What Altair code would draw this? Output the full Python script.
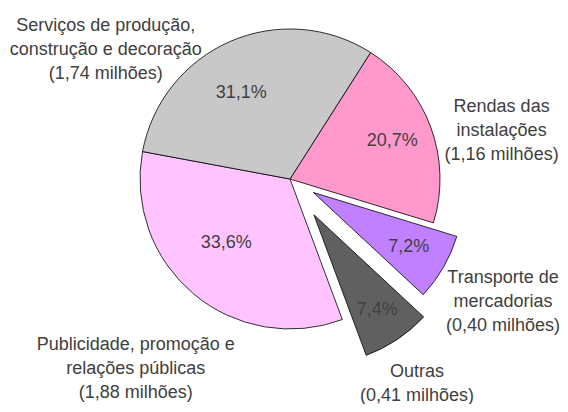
import altair as alt
import pandas as pd

# ---- data ----
categories = [
    "Rendas das\ninstalações",
    "Transporte de\nmercadorias",
    "Outras",
    "Publicidade, promoção e\nrelações públicas",
    "Serviços de produção,\nconstrução e decoração",
]
shares = [20.7, 7.2, 7.4, 33.6, 31.1]
amounts = [1.16, 0.40, 0.41, 1.88, 1.74]

# ---- style ----
colors = ["#FF99CC", "#C080FF", "#606060", "#FFC4FF", "#C8C8C8"]
explode = [0, 27, 43, 0, 0]             # px pulled out from centre
inner_dist = [109, 110, 114, 90, 99]    # px, percentage label distance
inner_shift = [0, 0, 0, 5, -6]          # deg, percentage label angle shift
label_angle = [77.2, 120, 148.2, 219, 305]  # deg, clockwise from top (outer labels)
label_dist = [217, 246, 241, 245, 225]      # px from pie centre
CX, CY, R = 282, 171, 150
START_DEG = 32.5
LH = 24
FONT = "Liberation Sans, Arial, sans-serif"

def fmt(v, d):
    return f"{v:.{d}f}".replace(".", ",")

df = pd.DataFrame({
    "cat": categories,
    "share": shares,
    "pct": [fmt(s, 1) + "%" for s in shares],
    "outer": [c + "\n(" + fmt(a, 2) + " milhões)" for c, a in zip(categories, amounts)],
    "color": colors,
    "explode": explode,
    "idist": inner_dist,
    "ishift": inner_shift,
    "la": label_angle,
    "ld": label_dist,
    "order": list(range(len(categories))),
})

base = alt.Chart(df).transform_window(
    cum="sum(share)", sort=[alt.SortField("order")]
).transform_joinaggregate(
    total="sum(share)"
).transform_calculate(
    t0=f"{START_DEG}*PI/180 + 2*PI*(datum.cum - datum.share)/datum.total",
    t1=f"{START_DEG}*PI/180 + 2*PI*datum.cum/datum.total",
    nl="length(split(datum.outer, '\\n'))",
).transform_calculate(
    tm="(datum.t0 + datum.t1)/2",
).transform_calculate(
    cx=f"{CX} + datum.explode*sin(datum.tm)",
    cy=f"{CY} - datum.explode*cos(datum.tm)",
    ti="datum.tm + datum.ishift*PI/180",
).transform_calculate(
    px="datum.cx + datum.idist*sin(datum.ti)",
    py="datum.cy - datum.idist*cos(datum.ti)",
    ox=f"{CX} + datum.ld*sin(datum.la*PI/180)",
    oy=f"{CY} - datum.ld*cos(datum.la*PI/180) - (datum.nl - 1)*{LH}/2",
)

arcs = base.mark_arc(radius=R, stroke="#000000", strokeWidth=0.8).encode(
    x=alt.X("cx:Q", scale=None, axis=None),
    y=alt.Y("cy:Q", scale=None, axis=None),
    theta=alt.Theta("t0:Q", scale=None, stack=None),
    theta2=alt.Theta2("t1:Q"),
    color=alt.Color("color:N", scale=None, legend=None),
)

pct = base.mark_text(font=FONT, fontSize=18, color="#404040").encode(
    x=alt.X("px:Q", scale=None, axis=None),
    y=alt.Y("py:Q", scale=None, axis=None),
    text="pct:N",
)

outer = base.mark_text(font=FONT, fontSize=18, color="#404040",
                       lineBreak="\n", lineHeight=LH, baseline="middle").encode(
    x=alt.X("ox:Q", scale=None, axis=None),
    y=alt.Y("oy:Q", scale=None, axis=None),
    text="outer:N",
)

chart = alt.layer(arcs, pct, outer).properties(
    width=552, height=396, padding=0, autosize="none"
).configure_view(stroke=None)

chart.save("out.html", embed_options={"renderer": "svg", "actions": False})
